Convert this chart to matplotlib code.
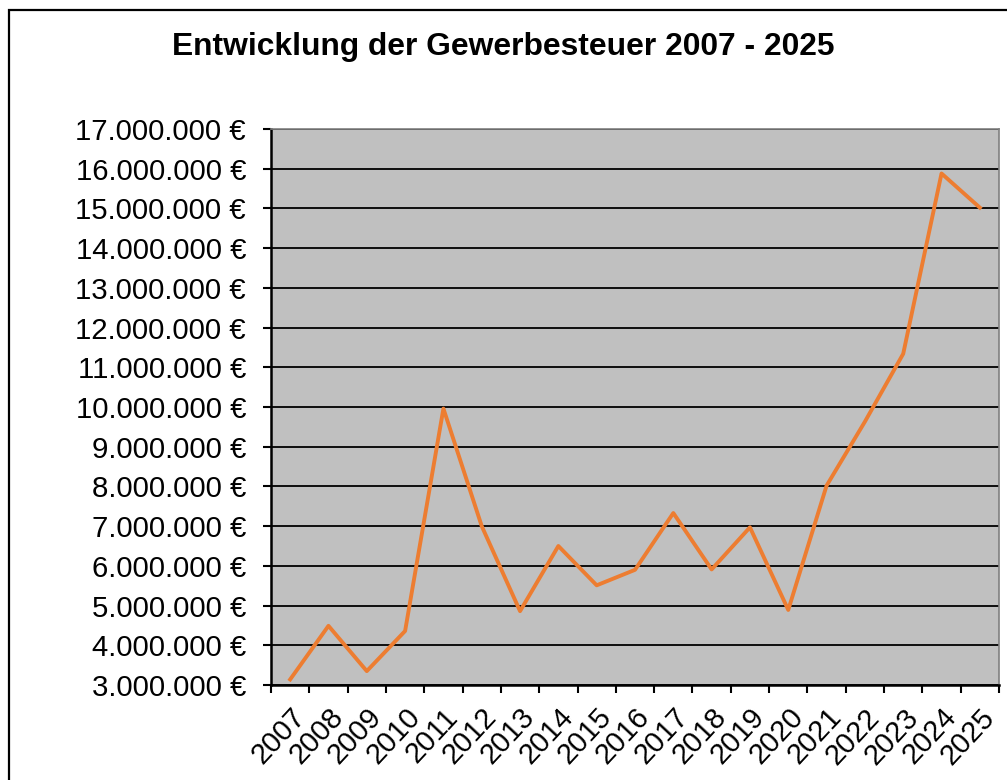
import matplotlib
matplotlib.use("Agg")
import matplotlib.pyplot as plt
from matplotlib.patches import Rectangle
from matplotlib.ticker import FuncFormatter, FixedLocator

plt.rcParams['font.family'] = ['Liberation Sans', 'DejaVu Sans']

# Gewerbesteuer per year (EUR)
years = [str(y) for y in range(2007, 2026)]
steuer = [3.14e6, 4.49e6, 3.35e6, 4.36e6, 9.96e6, 7.00e6, 4.86e6, 6.50e6,
          5.51e6, 5.90e6, 7.33e6, 5.91e6, 6.97e6, 4.89e6, 8.02e6, 9.63e6,
          11.34e6, 15.88e6, 15.02e6]
y_ticks = list(range(3000000, 17000001, 1000000))

W, H = 1007, 780
fig = plt.figure(figsize=(W / 100, H / 100), dpi=100)

# outer chart frame (right/bottom edges are cut off in the original)
fig.patches.append(Rectangle((9 / W, -0.1), 1.2, 1 - 10 / H + 0.1,
                             transform=fig.transFigure, fill=False,
                             edgecolor='black', linewidth=1.6, clip_on=False))

ax = fig.add_axes([271 / W, 1 - 685 / H, 728 / W, 556 / H])
ax.set_facecolor('#C0C0C0')

x = list(range(len(years)))
ax.plot(x, steuer, color='#ED7D31', linewidth=2.8, zorder=3)

ax.set_xlim(-0.5, len(years) - 0.5)
ax.set_ylim(3000000, 17000000)

ax.yaxis.set_major_locator(FixedLocator(y_ticks))
ax.yaxis.set_major_formatter(FuncFormatter(lambda v, p: f"{v:,.0f} €".replace(",", ".")))
ax.grid(axis='y', color='black', linewidth=1.3, zorder=1)
ax.set_axisbelow(True)

ax.set_xticks(x)
ax.set_xticklabels(years, rotation=47, ha='right', rotation_mode='anchor')
ax.set_xticks([i - 0.5 for i in range(len(years) + 1)], minor=True)
ax.tick_params(axis='x', which='major', length=0, pad=13, labelsize=21)
ax.tick_params(axis='x', which='minor', length=6, width=1.5, direction='out')
ax.tick_params(axis='y', length=6, width=1.5, pad=12, labelsize=21.2)

for s in ['left', 'bottom']:
    ax.spines[s].set_color('black')
    ax.spines[s].set_linewidth(1.8)
for s in ['top', 'right']:
    ax.spines[s].set_color('#808080')
    ax.spines[s].set_linewidth(1.2)

fig.text(0.5, 1 - 47 / H, "Entwicklung der Gewerbesteuer 2007 - 2025",
         ha='center', va='center', fontsize=22.9, fontweight='bold')

fig.savefig("out.png", dpi=100)
